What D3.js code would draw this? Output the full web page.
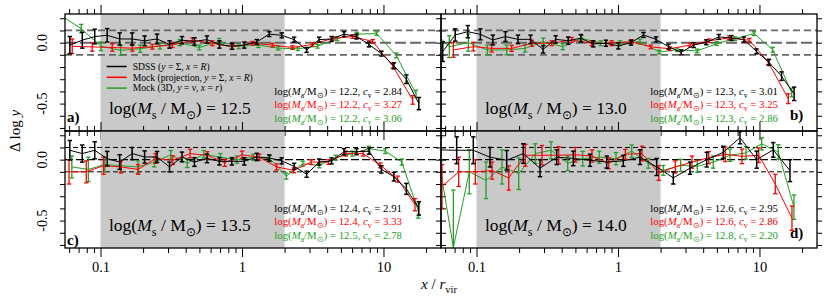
<!DOCTYPE html>
<html>
<head>
<meta charset="utf-8">
<script src="https://cdn.jsdelivr.net/npm/d3@7"></script>
<style>
  body { margin: 0; background: #fff; }
  svg { display: block; font-family: "Liberation Serif", "Times New Roman", serif; }
</style>
</head>
<body>
<div class="view1"></div>
<script>
// ---------- data: rows are [x / r_vir, delta log y, error] ----------
const sdssA = [[0.0607,-0.02,0.07],[0.0743,0.02,0.065],[0.0910,0.05,0.06],[0.1115,0.06,0.055],[0.1366,0.03,0.05],
  [0.1673,0.03,0.05],[0.2049,0.015,0.04],[0.2510,0.03,0.04],[0.3074,-0.015,0.03],[0.3766,0.02,0.03],[0.4613,0.01,0.03],
  [0.5650,0.025,0.03],[0.6921,-0.015,0.03],[0.8477,-0.03,0.025],[1.038,-0.02,0.025],[1.272,0.005,0.02],[1.558,0.07,0.02],
  [1.908,0.06,0.02],[2.337,0.025,0.02],[2.863,-0.06,0.02],[3.508,0.025,0.02],[4.297,0.03,0.02],[5.263,0.07,0.02],
  [6.447,0.05,0.02],[7.897,-0.015,0.02],[9.672,-0.09,0.02],[11.85,-0.19,0.025],[14.51,-0.30,0.035],[17.78,-0.50,0.05]];
const projA = [[0.0631,-0.03,0.06],[0.0874,-0.035,0.035],[0.1211,-0.04,0.03],[0.1677,-0.045,0.025],[0.2324,-0.033,0.02],
  [0.3219,-0.02,0.02],[0.4460,0.02,0.02],[0.6177,-0.005,0.02],[0.8559,-0.035,0.02],[1.186,-0.005,0.015],[1.643,-0.02,0.015],
  [2.275,-0.04,0.015],[3.152,-0.015,0.015],[4.366,0.035,0.015],[6.049,0.05,0.015],[8.380,0.01,0.015],[11.61,-0.19,0.02],
  [16.08,-0.47,0.035]];
const r3dA = [[0.0530,0.22,0.03],[0.0731,0.115,0.035],[0.1007,-0.03,0.035],[0.1388,-0.063,0.04],[0.1910,-0.05,0.03],
  [0.2632,-0.027,0.025],[0.3630,0.0,0.025],[0.4995,-0.04,0.02],[0.6887,0.01,0.025],[0.9480,-0.03,0.02],[1.307,-0.02,0.02],
  [1.802,-0.045,0.015],[2.480,-0.05,0.015],[3.419,-0.03,0.015],[4.705,0.033,0.015],[6.486,0.07,0.015],[8.943,0.074,0.015],
  [12.31,-0.105,0.02],[16.97,-0.42,0.03]];

const sdssB = [[0.0577,-0.074,0.08],[0.0707,0.063,0.05],[0.0868,0.09,0.05],[0.1065,0.068,0.045],[0.1305,0.022,0.04],
  [0.1601,0.05,0.04],[0.1964,0.027,0.035],[0.2409,0.027,0.035],[0.2955,-0.055,0.03],[0.3625,0.027,0.03],[0.4446,0.016,0.03],
  [0.5454,0.036,0.03],[0.6690,-0.01,0.025],[0.8206,-0.005,0.025],[1.006,-0.027,0.025],[1.234,0.0,0.02],[1.514,0.063,0.02],
  [1.857,0.027,0.02],[2.278,-0.033,0.02],[2.794,-0.08,0.02],[3.428,-0.02,0.02],[4.205,0.003,0.02],[5.158,0.047,0.02],
  [6.327,0.038,0.02],[7.761,0.026,0.02],[9.517,-0.072,0.02],[11.68,-0.162,0.025],[14.32,-0.275,0.035],[17.57,-0.42,0.055]];
const projB = [[0.0686,-0.06,0.06],[0.0949,-0.033,0.035],[0.1280,-0.047,0.03],[0.1773,-0.047,0.025],[0.2455,-0.005,0.025],
  [0.3400,-0.005,0.02],[0.4709,0.022,0.02],[0.6519,-0.005,0.02],[0.9026,-0.005,0.02],[1.250,0.008,0.015],[1.703,-0.035,0.015],
  [2.331,-0.05,0.015],[3.228,-0.02,0.015],[4.418,0.015,0.015],[6.117,0.04,0.015],[8.472,0.02,0.015],[11.54,-0.16,0.02],
  [15.98,-0.46,0.04]];
const r3dB = [[0.0469,0.12,0.05],[0.0642,-0.033,0.09],[0.0875,0.0,0.07],[0.1192,-0.06,0.04],[0.1634,-0.06,0.04],
  [0.2202,-0.047,0.03],[0.2966,0.008,0.03],[0.4066,-0.033,0.025],[0.5539,0.036,0.025],[0.7547,-0.005,0.02],[1.033,-0.005,0.02],
  [1.430,0.008,0.02],[1.958,-0.077,0.015],[2.625,-0.058,0.015],[3.634,-0.068,0.015],[4.983,-0.008,0.015],[6.713,0.033,0.015],
  [9.146,0.074,0.015],[12.40,-0.058,0.02],[16.89,-0.41,0.035]];

const sdssC = [[0.0607,0.077,0.08],[0.0743,0.05,0.07],[0.0910,0.077,0.07],[0.1115,0.008,0.06],[0.1366,-0.02,0.06],
  [0.1673,0.05,0.05],[0.2049,0.022,0.05],[0.2510,0.022,0.045],[0.3074,-0.06,0.04],[0.3766,0.022,0.04],[0.4613,-0.02,0.035],
  [0.5650,0.01,0.035],[0.6921,-0.014,0.03],[0.8477,-0.014,0.03],[1.038,-0.014,0.03],[1.272,0.022,0.03],[1.558,0.014,0.025],
  [1.908,-0.01,0.025],[2.337,-0.055,0.025],[2.863,-0.12,0.025],[3.508,-0.02,0.025],[4.297,-0.01,0.025],[5.263,0.065,0.025],
  [6.447,0.065,0.025],[7.897,0.07,0.025],[9.672,-0.08,0.03],[11.85,-0.14,0.035],[14.51,-0.24,0.045],[17.78,-0.40,0.055]];
const projC = [[0.0599,-0.1,0.1],[0.0793,-0.1,0.09],[0.1051,-0.05,0.07],[0.1393,-0.06,0.05],[0.1846,-0.08,0.04],
  [0.2447,0.01,0.04],[0.3243,-0.005,0.035],[0.4297,0.05,0.035],[0.5694,0.035,0.03],[0.7547,-0.025,0.03],[1.0,0.04,0.03],
  [1.325,0.02,0.025],[1.756,-0.06,0.025],[2.327,-0.088,0.02],[3.083,-0.02,0.02],[4.087,-0.02,0.02],[5.415,0.05,0.02],
  [7.176,0.05,0.02],[9.508,-0.047,0.02],[12.6,-0.16,0.025],[16.7,-0.37,0.05]];
const r3dC = [[0.0627,-0.06,0.09],[0.0820,-0.08,0.1],[0.1072,-0.04,0.06],[0.1403,-0.05,0.05],[0.1835,-0.06,0.05],
  [0.2400,-0.02,0.04],[0.3139,0.04,0.035],[0.4106,-0.03,0.035],[0.5370,0.045,0.03],[0.7025,0.02,0.03],[0.9189,0.0,0.03],
  [1.202,0.02,0.025],[1.572,0.008,0.025],[2.056,-0.135,0.025],[2.690,-0.033,0.02],[3.518,-0.047,0.02],[4.602,0.016,0.02],
  [6.019,0.05,0.02],[7.873,0.09,0.02],[10.3,0.07,0.02],[13.47,-0.02,0.025],[17.62,-0.42,0.06]];

const sdssD = [[0.0552,0.08,0.1],[0.0724,0.077,0.11],[0.0949,0.077,0.11],[0.1245,0.02,0.08],[0.1634,-0.005,0.08],
  [0.2141,0.05,0.08],[0.2810,-0.07,0.07],[0.3688,0.02,0.06],[0.4831,0.01,0.06],[0.6340,-0.005,0.05],[0.8320,-0.02,0.05],
  [1.090,-0.01,0.045],[1.430,0.02,0.06],[1.877,-0.06,0.07],[2.459,-0.15,0.05],[3.228,-0.07,0.05],[4.236,0.0,0.06],
  [5.549,0.06,0.05],[7.280,0.18,0.05],[9.554,0.0,0.07],[12.52,0.08,0.06],[16.43,-0.09,0.09]];
const projD = [[0.0570,-0.22,0.18],[0.0748,-0.1,0.12],[0.0981,-0.1,0.1],[0.1287,-0.09,0.07],[0.1689,-0.15,0.1],
  [0.2213,0.036,0.09],[0.2903,0.036,0.08],[0.3810,0.036,0.07],[0.4992,0.04,0.06],[0.6550,0.03,0.05],[0.8598,-0.03,0.045],
  [1.126,0.044,0.04],[1.477,0.05,0.06],[1.940,-0.11,0.06],[2.541,-0.06,0.05],[3.334,-0.02,0.05],[4.375,0.016,0.05],
  [5.732,0.044,0.06],[7.521,0.027,0.06],[9.870,0.036,0.06],[12.93,-0.2,0.08],[16.97,-0.48,0.1]];
const r3dD = [[0.0527,0.08,0.1],[0.0686,-0.72,0.47],[0.0889,-0.1,0.18],[0.1167,-0.17,0.15],[0.1514,-0.06,0.14],
  [0.1987,-0.115,0.13],[0.2603,0.05,0.08],[0.3361,0.077,0.07],[0.4411,-0.03,0.06],[0.5630,0.008,0.06],[0.7376,0.02,0.05],
  [0.9680,0.008,0.05],[1.250,0.07,0.05],[1.637,-0.03,0.04],[2.090,-0.088,0.04],[2.774,-0.047,0.05],[3.634,-0.055,0.05],
  [4.715,-0.02,0.05],[6.186,0.036,0.05],[8.027,0.055,0.05],[10.36,0.13,0.05],[13.58,0.063,0.06],[17.53,-0.39,0.1]];

// stellar mass of each panel and fitted halo parameters [log Ma, c_v] for SDSS / projection / 3D
const stellarMass = ["12.5", "13.0", "13.5", "14.0"];
const massA = [["12.2","2.84"],["12.2","3.27"],["12.2","3.06"]];
const massB = [["12.3","3.01"],["12.3","3.25"],["12.3","2.86"]];
const massC = [["12.4","2.91"],["12.4","3.33"],["12.5","2.78"]];
const massD = [["12.6","2.95"],["12.6","2.86"],["12.8","2.20"]];

// axes
const xDomain = [0.0561, 25.5];
const yDomain = [-0.725, 0.235];
const xMajorTicks = [0.1, 1, 10];
const xTickLabels = ["0.1", "1", "10"];
const xMinorTicks = [0.06,0.07,0.08,0.09,0.2,0.3,0.4,0.5,0.6,0.7,0.8,0.9,2,3,4,5,6,7,8,9,20];
const yTicks = [-0.7,-0.6,-0.5,-0.4,-0.3,-0.2,-0.1,0,0.1,0.2];
const yTickLabels = [[0, "0.0"], [-0.5, "-0.5"]];
const refLines = [0.1, 0, -0.1];
const shadeRange = [0.1, 2];

const colors = {sdss: "#000000", proj: "#ff0000", r3d: "#22a022"};
const FONT = '"Liberation Serif", "Times New Roman", serif';

// writes a list of [text, kind] pieces into a <text>; kind: "" | "i" | "sub" | "isub"
function rich(t, parts, size) {
  let shift = 0;
  parts.forEach(([s, kind]) => {
    let sub = kind.indexOf("sub") >= 0;
    let target = sub ? size * 0.28 : 0;
    let ts = t.append("tspan").text(s).attr("dy", target - shift);
    shift = target;
    if (kind === "i" || kind === "isub") ts.attr("font-style", "italic");
    if (sub) ts.attr("font-size", size * 0.7);
  });
  return t;
}

/** One of the four panels */
class Panel {
  constructor(svg, spec) {
    this.spec = spec;
    this.w = 376;
    this.h = 117;
    this.left = 65 + spec.col * this.w;
    this.top = 14 + spec.row * this.h;

    this.x = d3.scaleLog().domain(xDomain).range([0, this.w]);
    this.y = d3.scaleLinear().domain(yDomain).range([this.h, 0]);

    this.g = svg.append("g").attr("transform", `translate(${this.left},${this.top})`);
  }

  draw() {
    let g = this.g, x = this.x, y = this.y, spec = this.spec;
    let clipId = "clip" + spec.id;
    g.append("clipPath").attr("id", clipId)
      .append("rect").attr("width", this.w).attr("height", this.h);

    //shaded fitting range
    g.append("rect")
      .attr("x", x(shadeRange[0])).attr("y", 0)
      .attr("width", x(shadeRange[1]) - x(shadeRange[0])).attr("height", this.h)
      .attr("fill", "#c9c9c9");

    //dashed reference lines
    let top = spec.row === 0;
    g.selectAll(".ref").data(refLines).join("line")
      .attr("x1", 0).attr("x2", this.w)
      .attr("y1", d => y(d)).attr("y2", d => y(d))
      .attr("stroke", top ? "#666" : "#000")
      .attr("stroke-width", d => top ? (d === 0 ? 2 : 1.7) : (d === 0 ? 1.2 : 1))
      .attr("stroke-dasharray", d => top ? (d === 0 ? "11,4" : "7,4") : (d === 0 ? "8,3" : "5,3"));

    let data = g.append("g").attr("clip-path", `url(#${clipId})`);
    this.series(data, spec.r3d, colors.r3d, 1.3);
    this.series(data, spec.proj, colors.proj, 1.3);
    this.series(data, spec.sdss, colors.sdss, 1.5);

    this.axes();
    this.labels();

    //frame
    g.append("rect").attr("width", this.w).attr("height", this.h)
      .attr("fill", "none").attr("stroke", "#000").attr("stroke-width", 1.3);
  }

  series(g, rows, color, ew) {
    let x = this.x, y = this.y;
    let line = d3.line().x(d => x(d[0])).y(d => y(d[1]));
    g.append("path").datum(rows).attr("d", line)
      .attr("fill", "none").attr("stroke", color).attr("stroke-width", 1);

    let bars = g.append("g").attr("stroke", color).attr("stroke-width", ew);
    bars.selectAll(".v").data(rows).join("line")
      .attr("x1", d => x(d[0])).attr("x2", d => x(d[0]))
      .attr("y1", d => y(d[1] - d[2])).attr("y2", d => y(d[1] + d[2]));
    bars.selectAll(".hi").data(rows).join("line")
      .attr("x1", d => x(d[0]) - 2.2).attr("x2", d => x(d[0]) + 2.2)
      .attr("y1", d => y(d[1] + d[2])).attr("y2", d => y(d[1] + d[2]));
    bars.selectAll(".lo").data(rows).join("line")
      .attr("x1", d => x(d[0]) - 2.2).attr("x2", d => x(d[0]) + 2.2)
      .attr("y1", d => y(d[1] - d[2])).attr("y2", d => y(d[1] - d[2]));
  }

  axes() {
    let g = this.g, x = this.x, y = this.y, spec = this.spec;
    let tidy = a => { a.select(".domain").remove(); a.selectAll("line").attr("stroke-width", 1); };

    g.append("g").call(d3.axisTop(x).tickValues(xMinorTicks).tickSize(5).tickFormat("")).call(tidy);
    g.append("g").call(d3.axisTop(x).tickValues(xMajorTicks).tickSize(9).tickFormat("")).call(tidy);

    g.append("g").attr("transform", `translate(0,${this.h})`)
      .call(d3.axisBottom(x).tickValues(xMinorTicks).tickSize(5).tickFormat("")).call(tidy);
    let bottom = g.append("g").attr("transform", `translate(0,${this.h})`)
      .call(d3.axisBottom(x).tickValues(xMajorTicks).tickSize(9).tickPadding(5)
        .tickFormat((d, i) => spec.row === 1 ? xTickLabels[i] : ""))
      .call(tidy);
    bottom.selectAll("text").attr("font-family", FONT).attr("font-size", 14.5).attr("fill", "#000");

    g.append("g").call(d3.axisLeft(y).tickValues(yTicks).tickSize(5).tickFormat("")).call(tidy);
    g.append("g").attr("transform", `translate(${this.w},0)`)
      .call(d3.axisRight(y).tickValues(yTicks).tickSize(5).tickFormat("")).call(tidy);

    //rotated y tick labels on the left column
    if (spec.col === 0) {
      g.selectAll(".ylab").data(yTickLabels).join("text")
        .attr("transform", d => `translate(-18,${y(d[0])}) rotate(-90)`)
        .attr("text-anchor", "middle")
        .attr("font-size", 14)
        .text(d => d[1]);
    }
  }

  labels() {
    let g = this.g, spec = this.spec;
    let L = spec.layout;

    rich(g.append("text").attr("x", 44).attr("y", 100).attr("font-size", 17.5),
      [["log(", ""], ["M", "i"], ["s", "sub"], [" / M", ""], ["\u2299", "sub"], [") = " + spec.ms, ""]], 17.5);

    g.append("text").attr("x", L.letter[0]).attr("y", L.letter[1])
      .attr("font-size", 15).attr("font-weight", "bold").text(spec.id + ")");

    let cols = [colors.sdss, colors.proj, colors.r3d];
    spec.mass.forEach((m, i) => {
      let t = g.append("text").attr("x", 337).attr("y", 80.5 + i * 13.5)
        .attr("text-anchor", "end").attr("font-size", 10.8).attr("fill", cols[i]);
      rich(t, [["log(", ""], ["M", "i"], ["a", "sub"], ["/M", ""], ["\u2299", "sub"],
        [") = " + m[0] + ", ", ""], ["c", "i"], ["v", "sub"], [" = " + m[1], ""]], 10.8);
    });

    if (spec.legend) {
      let items = [
        [colors.sdss, [["SDSS (", ""], ["y", "i"], [" = \u03A3, ", ""], ["x", "i"], [" = ", ""], ["R", "i"], [")", ""]]],
        [colors.proj, [["Mock (projection, ", ""], ["y", "i"], [" = \u03A3, ", ""], ["x", "i"], [" = ", ""], ["R", "i"], [")", ""]]],
        [colors.r3d, [["Mock (3D, ", ""], ["y", "i"], [" = \u03BD, ", ""], ["x", "i"], [" = ", ""], ["r", "i"], [")", ""]]]
      ];
      items.forEach((it, i) => {
        let yy = 52.5 + i * 10.8;
        g.append("line").attr("x1", 41.7).attr("x2", 61.7).attr("y1", yy).attr("y2", yy)
          .attr("stroke", it[0]).attr("stroke-width", 1.5);
        rich(g.append("text").attr("x", 67.7).attr("y", yy + 3.3).attr("font-size", 9.6), it[1], 9.6);
      });
    }
  }
}

let svg = d3.select(".view1").append("svg")
  .attr("width", 830).attr("height", 306)
  .style("background", "#fff");

let panels = [
  {id: "a", col: 0, row: 0, ms: stellarMass[0], sdss: sdssA, proj: projA, r3d: r3dA, mass: massA, legend: true, layout: {letter: [2, 108]}},
  {id: "b", col: 1, row: 0, ms: stellarMass[1], sdss: sdssB, proj: projB, r3d: r3dB, mass: massB, legend: false, layout: {letter: [349, 106]}},
  {id: "c", col: 0, row: 1, ms: stellarMass[2], sdss: sdssC, proj: projC, r3d: r3dC, mass: massC, legend: false, layout: {letter: [2, 114]}},
  {id: "d", col: 1, row: 1, ms: stellarMass[3], sdss: sdssD, proj: projD, r3d: r3dD, mass: massD, legend: false, layout: {letter: [349, 107]}}
];
panels.forEach(p => new Panel(svg, p).draw());

//axis titles
rich(svg.append("text").attr("transform", "translate(20,131) rotate(-90)")
  .attr("text-anchor", "middle").attr("font-size", 15), [["\u0394 log ", ""], ["y", "i"]], 15);
rich(svg.append("text").attr("x", 439).attr("y", 289)
  .attr("text-anchor", "middle").attr("font-size", 15),
  [["x", "i"], [" / ", ""], ["r", "i"], ["vir", "sub"]], 15);
</script>
</body>
</html>
